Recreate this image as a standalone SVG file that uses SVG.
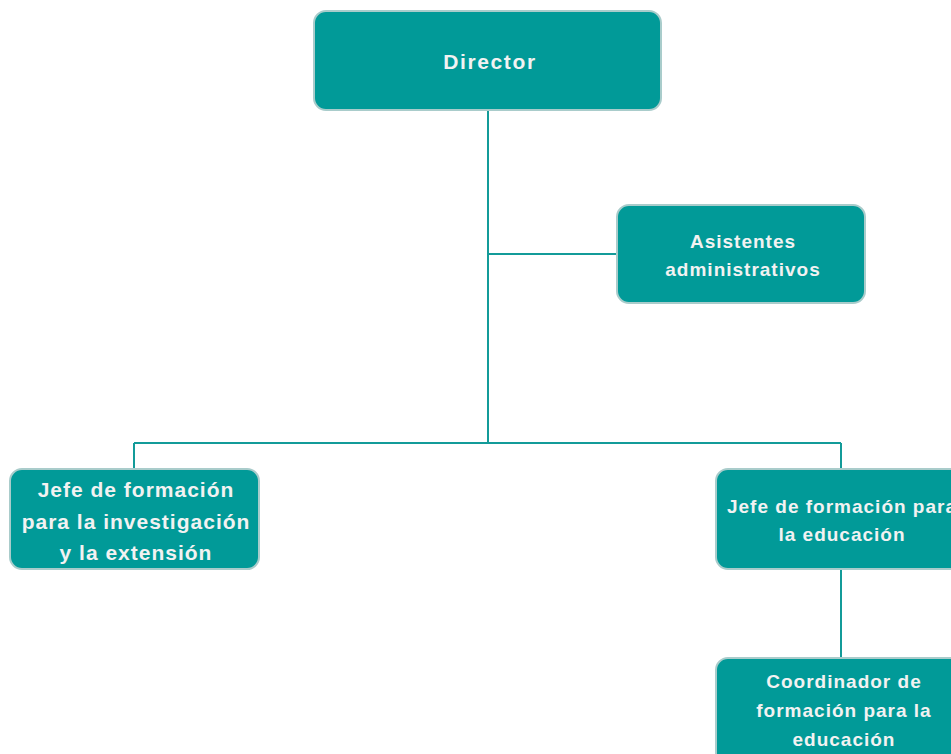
<svg xmlns="http://www.w3.org/2000/svg" width="951" height="754" viewBox="0 0 951 754">
<style>
.box{fill:#019a98;stroke:#a9cccb;stroke-width:2}
.t{font-family:"Liberation Sans","Open Sans",Arial,sans-serif;font-weight:bold;fill:#f2f2f2;text-anchor:middle;font-size:19px;letter-spacing:1px}
.c{stroke:#139b99;stroke-width:2;fill:none}
</style>
<rect width="951" height="754" fill="#ffffff"/>
<g id="connectors">
<path class="c" d="M488 110V443"/>
<path class="c" d="M488 254H617"/>
<path class="c" d="M134 443H841"/>
<path class="c" d="M134 443V469"/>
<path class="c" d="M841 443V469"/>
<path class="c" d="M841 569V658"/>
</g>
<g id="director">
<rect class="box" x="314" y="11" width="347" height="99" rx="12"/>
<text class="t" x="490" y="69" style="font-size:21px;letter-spacing:1.6px">Director</text>
</g>
<g id="asistentes">
<rect class="box" x="617" y="205" width="248" height="98" rx="12"/>
<text class="t" x="743" y="248">Asistentes</text>
<text class="t" x="743" y="276">administrativos</text>
</g>
<g id="jefe-investigacion">
<rect class="box" x="10" y="469" width="249" height="100" rx="12"/>
<text class="t" x="136" y="497" style="font-size:21px">Jefe de formación</text>
<text class="t" x="136" y="529" style="font-size:21px">para la investigación</text>
<text class="t" x="136" y="560" style="font-size:21px">y la extensión</text>
</g>
<g id="jefe-educacion">
<rect class="box" x="716" y="469" width="250" height="100" rx="12"/>
<text class="t" x="842" y="513">Jefe de formación para</text>
<text class="t" x="842" y="541">la educación</text>
</g>
<g id="coordinador">
<rect class="box" x="716" y="658" width="250" height="110" rx="12"/>
<text class="t" x="844" y="688">Coordinador de</text>
<text class="t" x="844" y="717">formación para la</text>
<text class="t" x="844" y="746">educación</text>
</g>
</svg>
